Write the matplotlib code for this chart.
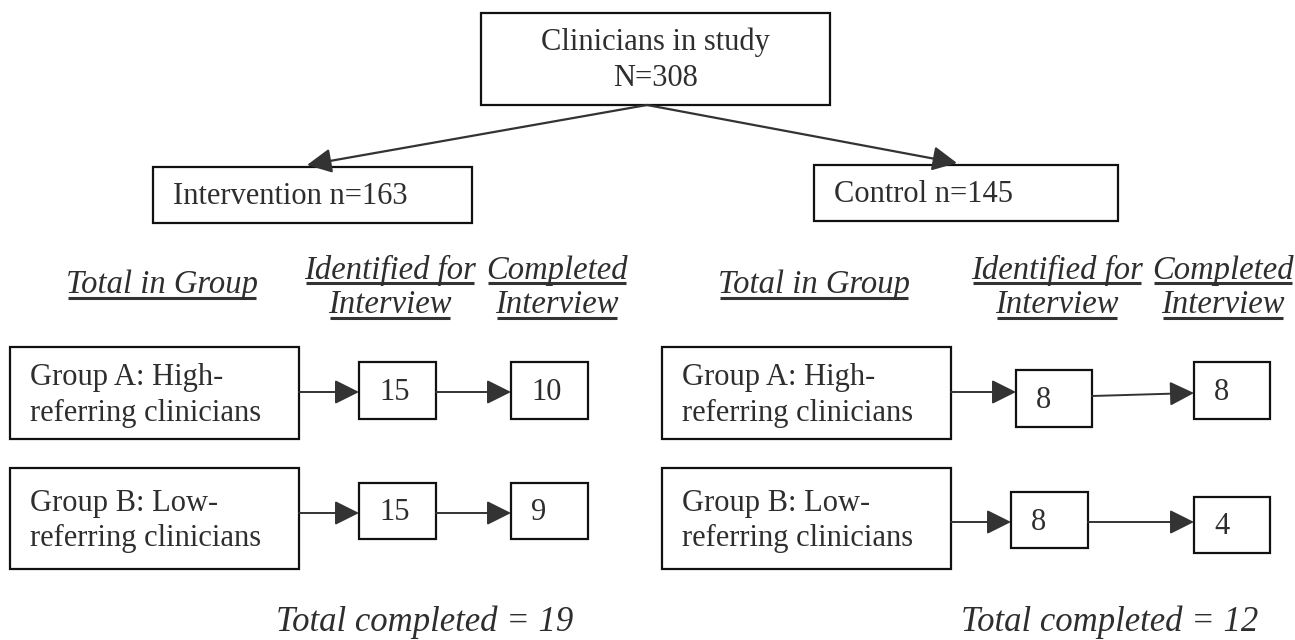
import matplotlib
matplotlib.use("Agg")
import matplotlib.pyplot as plt
from matplotlib.patches import Rectangle, FancyArrowPatch

plt.rcParams['font.family'] = ['Liberation Serif', 'DejaVu Serif']

#### chart content
total_label  = "Clinicians in study"
total_n      = 308
arm_names    = ["Intervention", "Control"]
arm_n        = [163, 145]
headers      = ["Total in Group", "Identified for\nInterview", "Completed\nInterview"]
group_labels = ["Group A: High-\nreferring clinicians", "Group B: Low-\nreferring clinicians"]
identified   = [[15, 15], [8, 8]]    # per arm: group A, group B
completed    = [[10, 9], [8, 4]]

#### layout (pixels, y down)
W, H = 1295, 640
top_box   = (481, 13, 830, 105)
arm_boxes = [(153, 167, 472, 223), (814, 165, 1118, 221)]
arm_tips  = [(307, 165), (957, 163)]
hdr_x     = [[162, 390, 557], [814, 1057, 1223]]
grp_boxes = [[(10, 347, 299, 439), (10, 468, 299, 569)],
             [(662, 347, 951, 439), (662, 468, 951, 569)]]
idf_boxes = [[(359, 362, 436, 419), (359, 483, 436, 539)],
             [(1016, 370, 1092, 427), (1011, 492, 1088, 548)]]
cmp_boxes = [[(511, 362, 588, 419), (511, 483, 588, 539)],
             [(1194, 362, 1270, 419), (1194, 497, 1270, 553)]]
arrow1_y  = [[392, 513], [392, 522]]
arrow2_y  = [[(392, 392), (513, 513)], [(396, 393), (522, 522)]]
total_x   = [425, 1110]

TXT = "#2e2e2e"
EDGE = "#111111"
FS = 22
FS_IT = 23.5

fig = plt.figure(figsize=(12.95, 6.4), dpi=100)
ax = fig.add_axes([0, 0, 1, 1])
ax.set_xlim(0, W)
ax.set_ylim(H, 0)
ax.axis("off")


def box(b):
    x0, y0, x1, y1 = b
    ax.add_patch(Rectangle((x0, y0), x1 - x0, y1 - y0, fill=False,
                           edgecolor=EDGE, linewidth=1.6))


def arrow(p0, p1, lw=1.4):
    ax.add_patch(FancyArrowPatch(p0, p1, arrowstyle="-|>,head_length=15,head_width=7.5",
                                 mutation_scale=1, shrinkA=0, shrinkB=0,
                                 color="#333333", linewidth=lw))


def underlined(x, y, s):
    t = ax.text(x, y, s, ha="center", va="center", fontsize=FS_IT, style="italic", color=TXT)
    fig.canvas.draw()
    bb = t.get_window_extent().transformed(ax.transData.inverted())
    ax.plot([bb.x0 + 2, bb.x1 - 2], [y + 13, y + 13], color="#333333", lw=2.2,
            solid_capstyle="butt")


# top box
box(top_box)
cx = (top_box[0] + top_box[2]) / 2
ax.text(cx, 42, total_label, ha="center", va="center", fontsize=FS, color=TXT)
ax.text(cx, 78, "N=" + str(total_n), ha="center", va="center", fontsize=FS, color=TXT)
start = (647, top_box[3])

for a in range(2):
    b = arm_boxes[a]
    box(b)
    ax.text(b[0] + 20, (b[1] + b[3]) / 2 + 2, arm_names[a] + " n=" + str(arm_n[a]),
            ha="left", va="center", fontsize=FS, color=TXT)
    arrow(start, arm_tips[a], lw=1.6)

    # column headers
    for k, h in enumerate(headers):
        lines = h.split("\n")
        if len(lines) == 1:
            underlined(hdr_x[a][k], 285, lines[0])
        else:
            underlined(hdr_x[a][k], 270, lines[0])
            underlined(hdr_x[a][k], 305, lines[1])

    for g in range(2):
        gb = grp_boxes[a][g]
        box(gb)
        gc = (gb[1] + gb[3]) / 2
        l1, l2 = group_labels[g].split("\n")
        ax.text(gb[0] + 20, gc - 15, l1, ha="left", va="center", fontsize=FS, color=TXT)
        ax.text(gb[0] + 20, gc + 20, l2, ha="left", va="center", fontsize=FS, color=TXT)

        ib = idf_boxes[a][g]
        box(ib)
        ax.text(ib[0] + 20, (ib[1] + ib[3]) / 2 + 2, str(identified[a][g]),
                ha="left", va="center", fontsize=FS, color=TXT)

        cb = cmp_boxes[a][g]
        box(cb)
        ax.text(cb[0] + 20, (cb[1] + cb[3]) / 2 + 2, str(completed[a][g]),
                ha="left", va="center", fontsize=FS, color=TXT)

        arrow((gb[2], arrow1_y[a][g]), (ib[0], arrow1_y[a][g]))
        arrow((ib[2], arrow2_y[a][g][0]), (cb[0], arrow2_y[a][g][1]))

    ax.text(total_x[a], 622, "Total completed = " + str(sum(completed[a])),
            ha="center", va="center", fontsize=25, style="italic", color=TXT)

fig.savefig("out.png", dpi=100, facecolor="white")
